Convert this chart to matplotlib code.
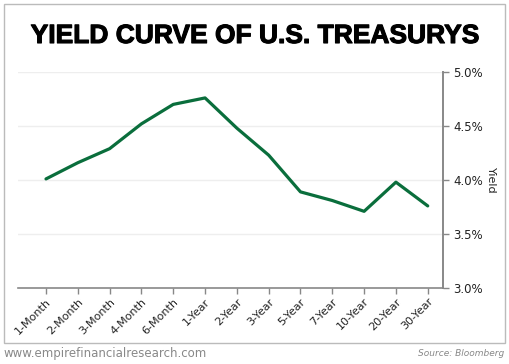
import matplotlib.pyplot as plt
import matplotlib.patheffects as pe
from matplotlib.patches import Rectangle

maturities = ["1-Month", "2-Month", "3-Month", "4-Month", "6-Month", "1-Year", "2-Year",
              "3-Year", "5-Year", "7-Year", "10-Year", "20-Year", "30-Year"]
yields = [4.01, 4.16, 4.29, 4.52, 4.70, 4.76, 4.48, 4.23, 3.89, 3.81, 3.71, 3.98, 3.76]
yticks = [3.0, 3.5, 4.0, 4.5, 5.0]

W, H = 510, 364
fig = plt.figure(figsize=(W / 100, H / 100), dpi=100)
ax = fig.add_axes([18 / W, (H - 288) / H, (443 - 18) / W, (288 - 72) / H])

x = list(range(len(maturities)))
ax.plot(x, yields, color="#0a6e3c", lw=2.3, solid_capstyle="round", zorder=3)

ax.set_xlim(-0.88, 12.48)
ax.set_ylim(3.0, 5.0)
ax.set_xticks(x)
ax.set_xticklabels(maturities, rotation=45, ha="right", rotation_mode="anchor",
                   fontsize=8, color="#222222")
ax.set_yticks(yticks)
ax.set_yticklabels([f"{v:.1f}%" for v in yticks], fontsize=8.5, color="#222222")
ax.yaxis.tick_right()
ax.yaxis.set_label_position("right")
ax.set_ylabel("Yield", rotation=-90, labelpad=9, fontsize=8, color="#222222")
ax.grid(axis="y", color="#eeeeee", lw=1)
ax.set_axisbelow(True)

for s in ["top", "left"]:
    ax.spines[s].set_visible(False)
ax.spines["right"].set_color("#888888")
ax.spines["bottom"].set_color("#888888")
ax.spines["right"].set_linewidth(1.4)
ax.spines["bottom"].set_linewidth(1.2)
ax.tick_params(axis="both", colors="#888888", length=4, width=1, labelcolor="#222222")
ax.tick_params(axis="x", pad=2)

# outer frame
fig.patches.append(Rectangle((4 / W, (H - 343) / H), 501 / W, 339 / H,
                             transform=fig.transFigure, fill=False,
                             edgecolor="#bbbbbb", lw=1))

fig.text(0.5, (H - 36) / H, "YIELD CURVE OF U.S. TREASURYS", ha="center", va="center",
         fontsize=19, fontweight="heavy", family="Liberation Sans", color="black",
         path_effects=[pe.withStroke(linewidth=0.8, foreground="black")])
fig.text(4 / W, (H - 353) / H, "www.empirefinancialresearch.com", ha="left", va="center",
         fontsize=8.5, color="#888888")
fig.text(504 / W, (H - 353) / H, "Source: Bloomberg", ha="right", va="center",
         fontsize=6.5, style="italic", color="#888888")

fig.savefig("out.png", dpi=100)
